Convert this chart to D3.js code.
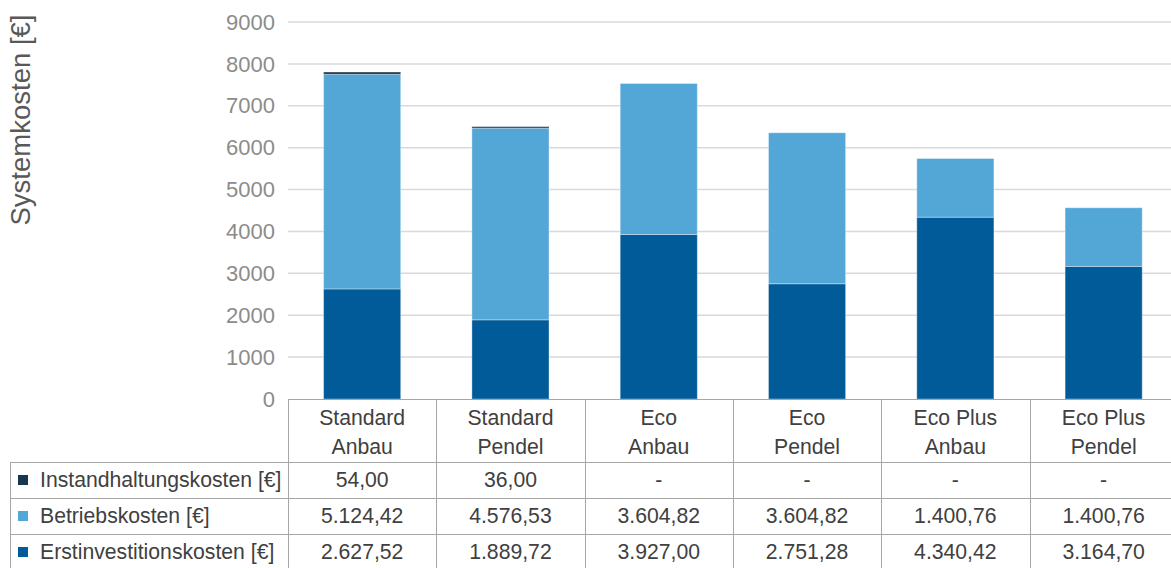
<!DOCTYPE html>
<html>
<head>
<meta charset="utf-8">
<script src="https://cdn.jsdelivr.net/npm/d3@7"></script>
<style>
  html, body { margin: 0; padding: 0; background: #fff; }
  svg { display: block; font-family: "Liberation Sans", Arial, sans-serif; }
</style>
</head>
<body>
<svg id="chart" width="1171" height="568"></svg>
<script>
// Categories (two-line labels) and cost series
const categories = ["Standard Anbau", "Standard Pendel", "Eco Anbau", "Eco Pendel", "Eco Plus Anbau", "Eco Plus Pendel"];
const categoryLines = [["Standard", "Anbau"], ["Standard", "Pendel"], ["Eco", "Anbau"], ["Eco", "Pendel"], ["Eco Plus", "Anbau"], ["Eco Plus", "Pendel"]];
const erstinvestition = [2627.52, 1889.72, 3927.00, 2751.28, 4340.42, 3164.70];
const betrieb = [5124.42, 4576.53, 3604.82, 3604.82, 1400.76, 1400.76];
const instandhaltung = [54.00, 36.00, 0, 0, 0, 0];
const yTicks = [0, 1000, 2000, 3000, 4000, 5000, 6000, 7000, 8000, 9000];

const seriesNames = ["Erstinvestitionskosten [€]", "Betriebskosten [€]", "Instandhaltungskosten [€]"];
const seriesColors = ["#005b98", "#53a7d7", "#17364f"];
const seriesValues = [erstinvestition, betrieb, instandhaltung];

const svg = d3.select("#chart");
const plotLeft = 288, plotTop = 22, plotBottom = 399;
const bandW = 148.3;
const plotRight = plotLeft + bandW * categories.length;
const textColor = "#404040";
const tableFont = 21.2;

const x = d3.scaleBand().domain(categories).range([plotLeft, plotRight]).paddingInner(0.48).paddingOuter(0.24);
const y = d3.scaleLinear().domain([0, 9000]).range([plotBottom, plotTop]);

// Gridlines
svg.append("g").selectAll("line").data(yTicks.filter(d => d > 0)).join("line")
  .attr("x1", plotLeft).attr("x2", 1171)
  .attr("y1", d => y(d)).attr("y2", d => y(d))
  .attr("stroke", "#d9d9d9").attr("stroke-width", 1.5);

// Y axis tick labels
svg.append("g").selectAll("text").data(yTicks).join("text")
  .attr("x", 275).attr("y", d => y(d)).attr("dy", "0.35em")
  .attr("text-anchor", "end").attr("font-size", 22).attr("fill", "#8c8c8c")
  .text(d => d);

// Y axis title
svg.append("text")
  .attr("transform", "translate(30,120) rotate(-90)")
  .attr("text-anchor", "middle").attr("font-size", 27.5).attr("fill", "#595959")
  .text("Systemkosten [€]");

// Stacked bars
const rows = categories.map((c, i) => {
  const r = { cat: c };
  seriesNames.forEach((s, k) => r[s] = seriesValues[k][i]);
  return r;
});
const stack = d3.stack().keys(seriesNames)(rows);
svg.append("g").selectAll("g").data(stack).join("g")
  .attr("fill", (d, i) => seriesColors[i])
  .selectAll("rect").data(d => d).join("rect")
  .attr("x", d => x(d.data.cat))
  .attr("width", x.bandwidth())
  .attr("y", d => y(d[1]))
  .attr("height", d => Math.max(0, y(d[0]) - y(d[1])))
  .attr("stroke", "#ffffff").attr("stroke-opacity", 0.35).attr("stroke-width", 1);

// Data table
const tableColor = "#a6a6a6";
const headerBottom = 462, rowH = 36;
const tableRows = [
  { name: seriesNames[2], color: seriesColors[2], values: instandhaltung },
  { name: seriesNames[1], color: seriesColors[1], values: betrieb },
  { name: seriesNames[0], color: seriesColors[0], values: erstinvestition }
];
const tableLeft = 10;
const tbl = svg.append("g");
const fmt = v => v === 0 ? "-" : v.toLocaleString("de-DE", { minimumFractionDigits: 2, maximumFractionDigits: 2 });

// Horizontal lines
tbl.append("line").attr("x1", plotLeft).attr("x2", plotRight).attr("y1", plotBottom + 0.5).attr("y2", plotBottom + 0.5)
  .attr("stroke", tableColor);
d3.range(tableRows.length + 1).forEach(i => {
  const yy = headerBottom + i * rowH + 0.5;
  tbl.append("line").attr("x1", tableLeft).attr("x2", plotRight).attr("y1", yy).attr("y2", yy)
    .attr("stroke", tableColor);
});
// Vertical lines
d3.range(categories.length + 1).forEach(i => {
  const xx = Math.round(plotLeft + i * bandW) + 0.5;
  tbl.append("line").attr("x1", xx).attr("x2", xx).attr("y1", plotBottom).attr("y2", headerBottom + tableRows.length * rowH)
    .attr("stroke", tableColor);
});
tbl.append("line").attr("x1", tableLeft + 0.5).attr("x2", tableLeft + 0.5)
  .attr("y1", headerBottom).attr("y2", headerBottom + tableRows.length * rowH).attr("stroke", tableColor);

// Category headers
categories.forEach((c, i) => {
  const cx = x(c) + x.bandwidth() / 2;
  const t = tbl.append("text").attr("text-anchor", "middle").attr("font-size", tableFont).attr("fill", textColor);
  categoryLines[i].forEach((line, j) => {
    t.append("tspan").attr("x", cx).attr("y", 425 + j * 29).text(line);
  });
});

// Series rows
tableRows.forEach((r, ri) => {
  const cy = headerBottom + ri * rowH + rowH / 2;
  tbl.append("rect").attr("x", 18).attr("y", cy - 5).attr("width", 10).attr("height", 10).attr("fill", r.color);
  tbl.append("text").attr("x", 40).attr("y", cy).attr("dy", "0.35em")
    .attr("font-size", tableFont).attr("fill", textColor).text(r.name);
  r.values.forEach((v, i) => {
    tbl.append("text").attr("x", x(categories[i]) + x.bandwidth() / 2).attr("y", cy).attr("dy", "0.35em")
      .attr("text-anchor", "middle").attr("font-size", tableFont).attr("fill", textColor).text(fmt(v));
  });
});
</script>
</body>
</html>
